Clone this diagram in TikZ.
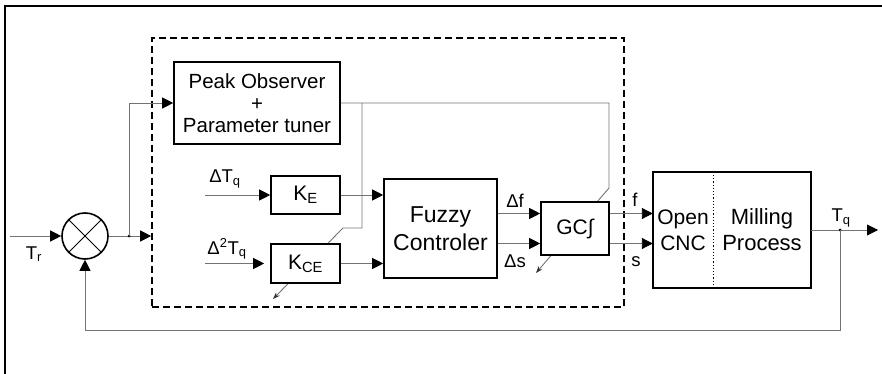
\documentclass[tikz,border=0pt]{standalone}
\usepackage{fontspec}
\setmainfont{Liberation Sans}
\usetikzlibrary{arrows.meta,backgrounds}

\begin{document}
\begin{tikzpicture}[
    x=1pt,
    y=-1pt,
    block/.style={draw, fill=white, line width=1.6pt, rectangle, inner sep=0pt, align=center},
    wire/.style={draw=black!55, line width=0.9pt},
    conn/.style={wire, -{Triangle[length=11pt, width=11pt, color=black]}},
    adjust/.style={wire, -{Stealth[length=7pt, width=5pt, color=black!80]}},
    lbl/.style={inner sep=0pt, font=\fontsize{18.5}{20}\selectfont}
]
\useasboundingbox (0,0) rectangle (882,374);

% Frame
\draw[line width=2.2pt] (5,374) -- (5,6) -- (883,6);

% Controller (dashed)
\node[draw, line width=1.6pt, dash pattern=on 7pt off 4pt, minimum width=472pt, minimum height=269pt] (ctrl) at (388,172.5) {};

% Blocks
\node[circle, draw, line width=1.6pt, minimum size=46pt, inner sep=0pt] (sum) at (85,236) {};
\draw[line width=1pt] (sum.north west) -- (sum.south east) (sum.north east) -- (sum.south west);

\node[block, minimum width=166pt, minimum height=82pt, font=\fontsize{20.5}{22}\selectfont] (peak) at (257,103) {Peak Observer\\+\\Parameter tuner};
\node[block, minimum width=69pt, minimum height=38pt, font=\fontsize{21}{24}\selectfont] (ke) at (305.5,195) {K\textsubscript{E}};
\node[block, minimum width=69pt, minimum height=39pt, font=\fontsize{21}{24}\selectfont] (kce) at (305.5,263.5) {K\textsubscript{CE}};
\node[block, minimum width=113pt, minimum height=99pt, font=\fontsize{23}{28}\selectfont] (fuzzy) at (440.5,228.5) {Fuzzy\\Controler};
\node[block, minimum width=68pt, minimum height=53pt, font=\fontsize{21}{24}\selectfont] (gc) at (575,228.5) {GC∫};

\node[minimum width=60pt, minimum height=116pt, inner sep=0pt, align=center, font=\fontsize{21}{26}\selectfont] (cnc) at (683,230) {Open\\CNC};
\node[minimum width=98pt, minimum height=116pt, inner sep=0pt, align=center, font=\fontsize{22}{26}\selectfont] (mill) at (762,230) {Milling\\Process};
\draw[line width=1.6pt] (cnc.north west) rectangle (mill.south east);
\draw[line width=1.2pt, dotted] (cnc.north east) -- (cnc.south east);

% Points
\coordinate (tr) at (10,236);
\coordinate (split) at (129,236);
\coordinate (dtq) at (205,195);
\coordinate (ddtq) at (205,263.5);
\coordinate (ptap) at (362,103);
\coordinate (kcebend) at (343,228);
\coordinate (kceend) at (273,299);
\coordinate (gctop) at (609,188);
\coordinate (gcend) at (536,273);
\coordinate (tap) at (840,230);
\coordinate (out) at (878,230);
\coordinate (feed) at (840,330);

% Signals
\draw[conn] (tr) -- (sum.west);
\draw[conn] (sum.east) -- (sum -| ctrl.west);
\fill (split) circle (1.5pt);
\draw[conn] (split) |- (peak.west);
\draw[conn] (dtq) -- (ke.west);
\draw[conn, shorten >=6pt] (ddtq) -- (kce.west);
\draw[conn] (ke.east) -- (ke -| fuzzy.west);
\draw[conn] (kce.east) -- (kce -| fuzzy.west);
\draw[conn] ([yshift=15pt]fuzzy.east) -- ([yshift=15pt]gc.west);
\draw[conn] ([yshift=-15pt]fuzzy.east) -- ([yshift=-15pt]gc.west);
\draw[conn] ([yshift=15pt]gc.east) coordinate (fout) -- (fout -| cnc.west);
\draw[conn] ([yshift=-15pt]gc.east) coordinate (sout) -- (sout -| cnc.west);
\draw[conn] (mill.east) -- (out);
\fill (tap) circle (1.5pt);
\draw[conn] (tap) -- (feed) -| (sum.south);

% Tuning (behind the blocks)
\begin{scope}[on background layer]
\draw[adjust] (peak.east) -| (gctop) -- (gcend);
\draw[adjust] (ptap) |- (kcebend) -- (kceend);
\end{scope}

% Labels
\node[lbl] (trlbl) at (34,254) {T\textsubscript{r}};
\node[lbl] (dtqlbl) at (225,179) {ΔT\textsubscript{q}};
\node[lbl] (ddtqlbl) at (227,249) {Δ\textsuperscript{2}T\textsubscript{q}};
\node[lbl] (dflbl) at (515,201) {Δf};
\node[lbl] (dslbl) at (515,261) {Δs};
\node[lbl] (flbl) at (635,200) {f};
\node[lbl] (slbl) at (636,262) {s};
\node[lbl] (tqlbl) at (841,218) {T\textsubscript{q}};

\end{tikzpicture}
\end{document}
